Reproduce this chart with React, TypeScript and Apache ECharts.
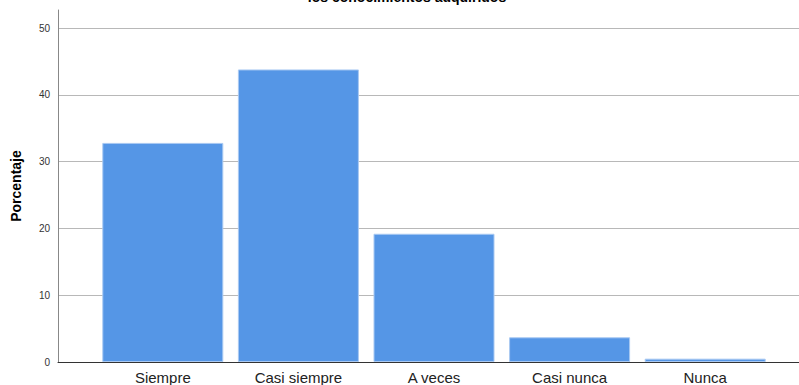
import React, { useEffect, useRef } from "react";
import * as echarts from "echarts";

const categories = ["Siempre", "Casi siempre", "A veces", "Casi nunca", "Nunca"];
const percentages = [32.8, 43.8, 19.2, 3.7, 0.5];
const yMax = 52.7;
const yInterval = 10;
const titleText = "los conocimientos adquiridos";
const yAxisName = "Porcentaje";

const FONT = "'Liberation Sans', Arial, sans-serif";

export default function App() {
  const ref = useRef<HTMLDivElement>(null);
  useEffect(() => {
    if (!ref.current) return;
    const chart = echarts.init(ref.current, null, { renderer: "svg" });
    chart.setOption({
      animation: false,
      backgroundColor: "#ffffff",
      textStyle: { fontFamily: FONT },
      graphic: [
        {
          type: "text",
          x: 407,
          y: 4,
          style: {
            text: titleText,
            font: `bold 14px ${FONT}`,
            fill: "#000",
            textAlign: "center",
            textVerticalAlign: "bottom",
          },
        },
      ],
      grid: [
        { left: 58, right: 0, top: 10, bottom: 23, containLabel: false, outerBoundsMode: "none" },
        { left: 95, right: 26, top: 10, bottom: 23, containLabel: false, outerBoundsMode: "none" },
      ],
      xAxis: [
        {
          gridIndex: 0,
          type: "category",
          data: categories,
          axisLine: { show: true, lineStyle: { color: "#333", width: 1 } },
          axisTick: { show: false },
          axisLabel: { show: false },
          splitLine: { show: false },
        },
        {
          gridIndex: 1,
          type: "category",
          data: categories,
          axisLine: { show: false },
          axisTick: { show: false },
          axisLabel: {
            show: true,
            fontSize: 15,
            color: "#222",
            margin: 8,
            fontFamily: FONT,
          },
        },
      ],
      yAxis: [
        {
          gridIndex: 0,
          type: "value",
          min: 0,
          max: yMax,
          interval: yInterval,
          name: yAxisName,
          nameLocation: "middle",
          nameGap: 35,
          nameTextStyle: { fontSize: 14, fontWeight: "bold", color: "#000", fontFamily: FONT },
          axisLine: { show: true, lineStyle: { color: "#888", width: 1 } },
          axisTick: { show: false },
          axisLabel: {
            fontSize: 10,
            color: "#333",
            margin: 8,
            showMaxLabel: false,
            fontFamily: FONT,
            formatter: (v: number) => (v % 10 === 0 ? String(v) : ""),
          },
          splitLine: { show: true, showMaxLine: false, lineStyle: { color: "#b8b8b8", width: 1 } },
        },
        {
          gridIndex: 1,
          type: "value",
          min: 0,
          max: yMax,
          show: false,
          splitLine: { show: false },
        },
      ],
      series: [
        {
          type: "bar",
          xAxisIndex: 1,
          yAxisIndex: 1,
          data: percentages,
          barWidth: 121,
          itemStyle: { color: "#5596e6", borderColor: "#a9c9f2", borderWidth: 1 },
        },
      ],
    });
    return () => chart.dispose();
  }, []);
  return (
    <div
      ref={ref}
      style={{ position: "fixed", left: 0, top: 0, width: 799, height: 385 }}
    />
  );
}
